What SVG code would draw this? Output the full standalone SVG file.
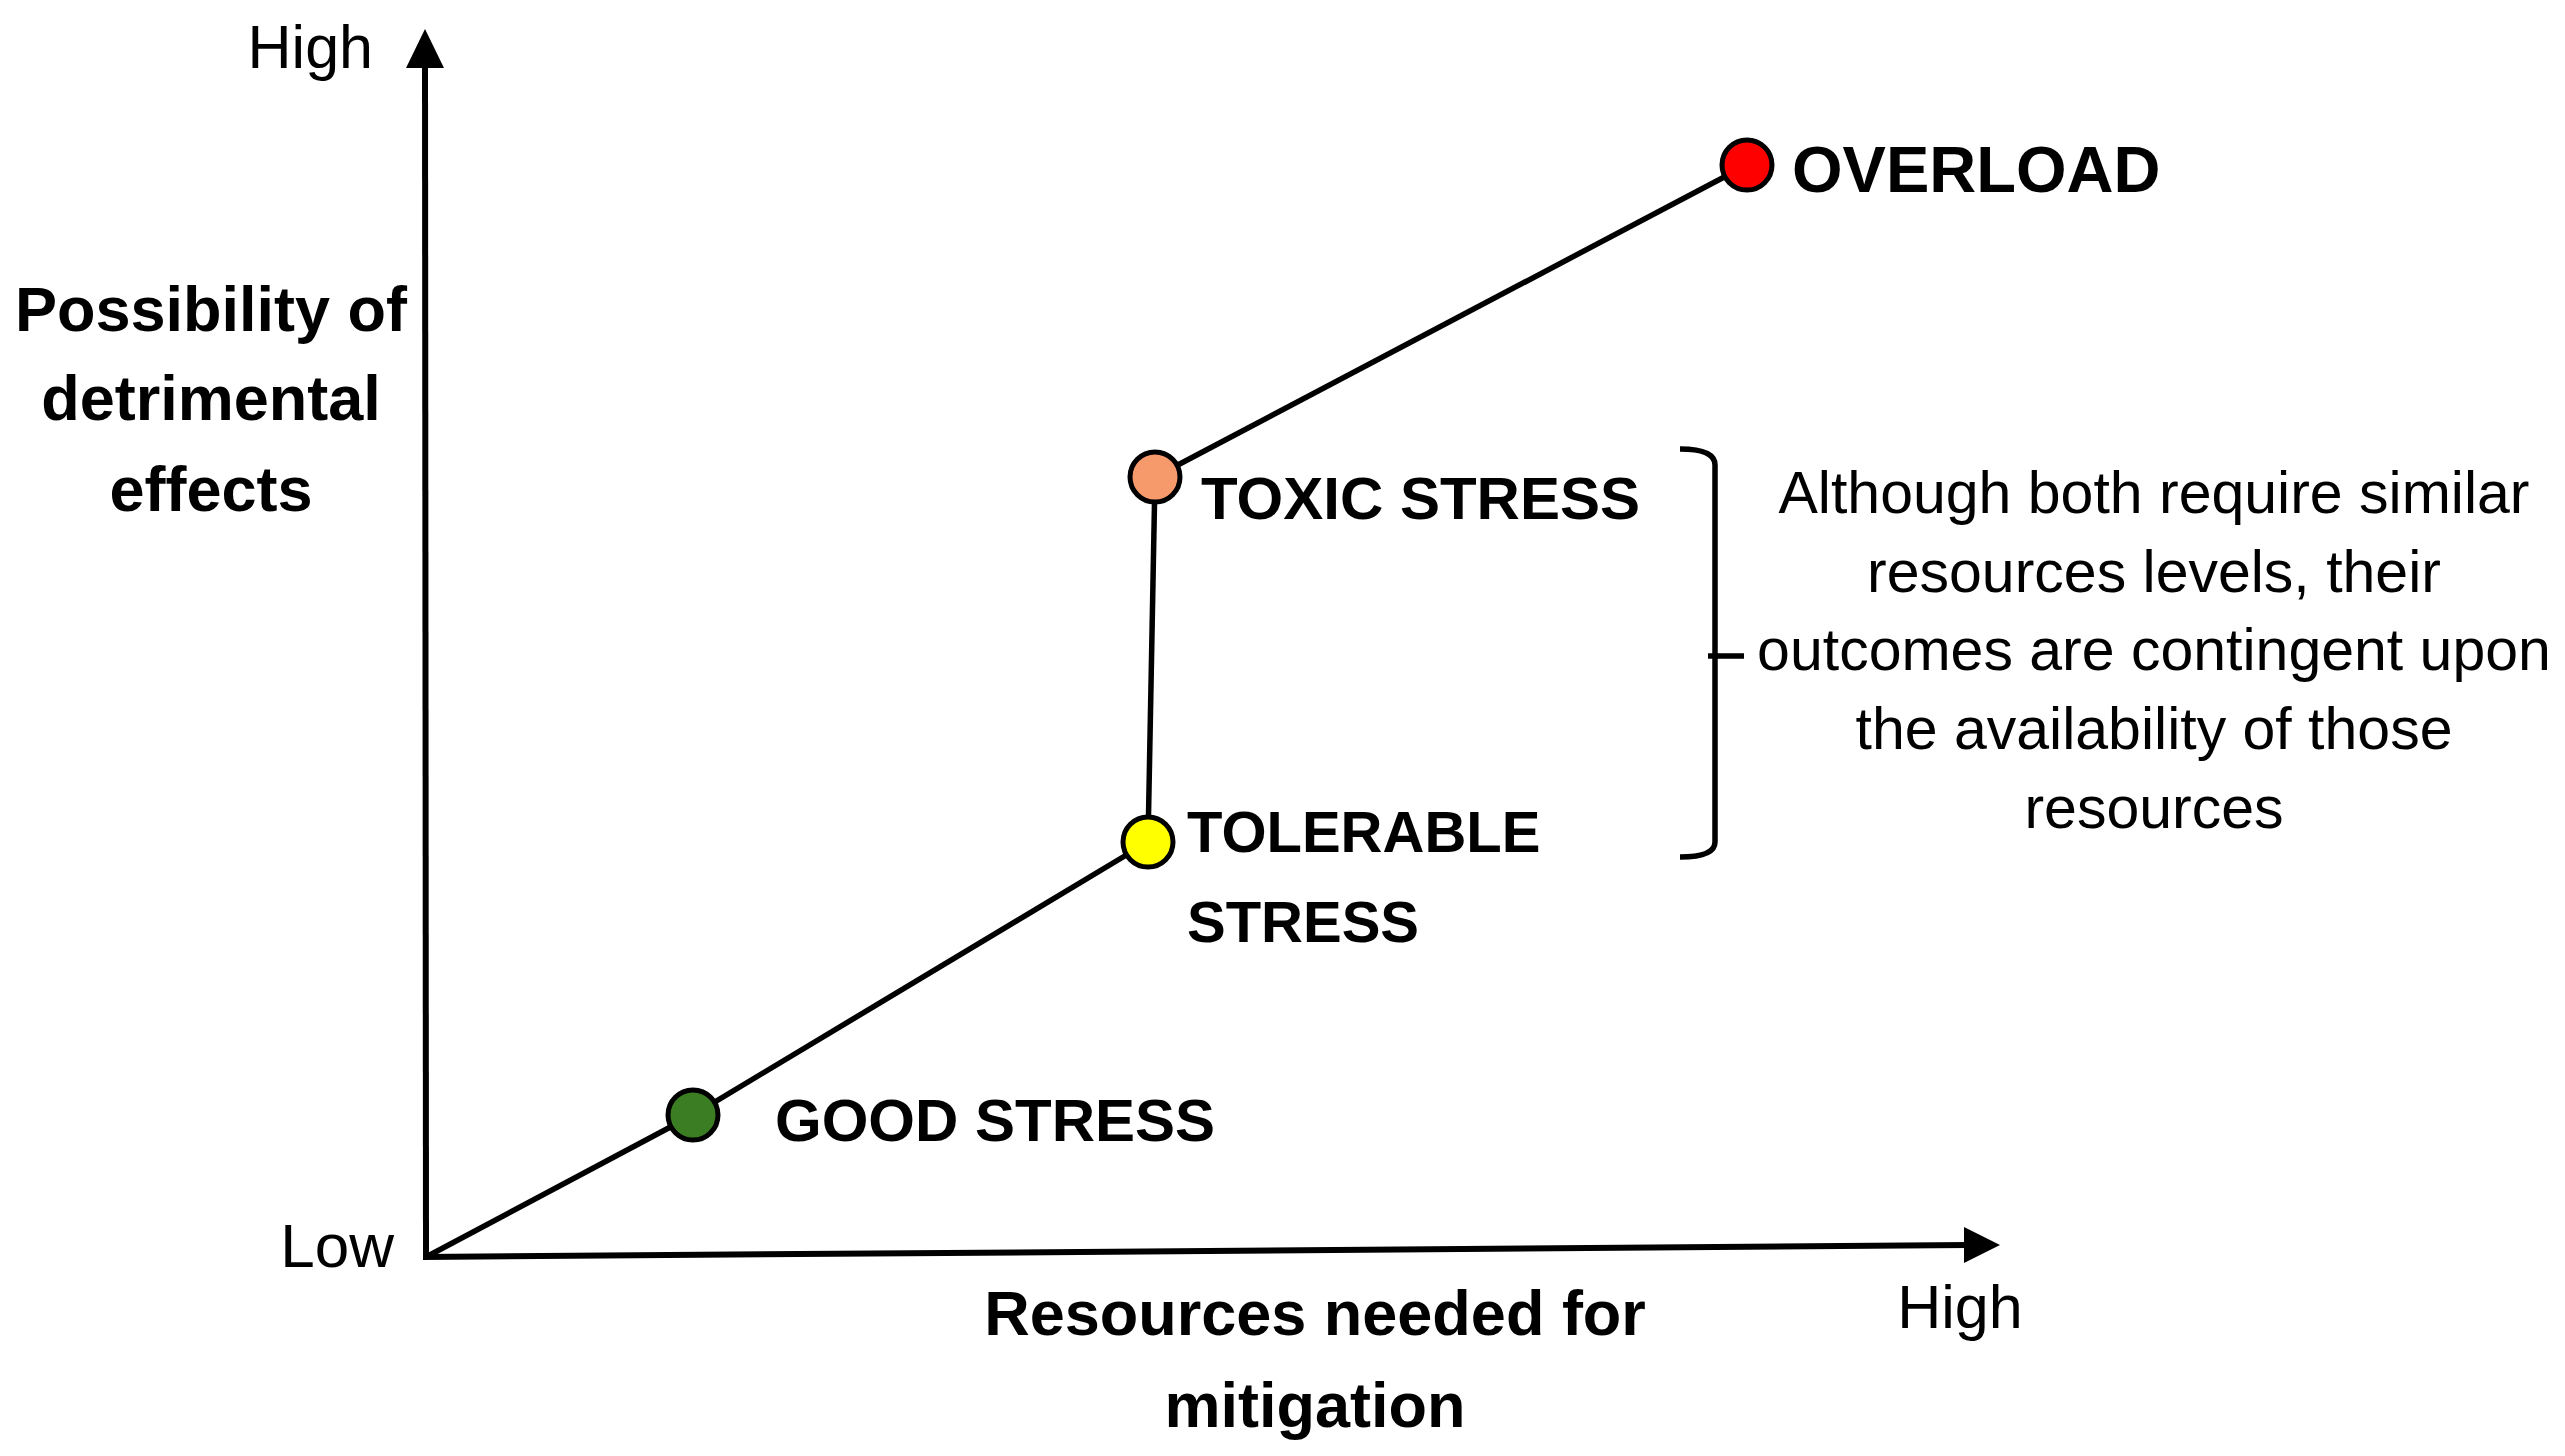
<svg xmlns="http://www.w3.org/2000/svg" width="2565" height="1456" viewBox="0 0 2565 1456">
<style>
.t{font-family:"Liberation Sans",Arial,sans-serif;fill:#000}
.b{font-weight:bold}
.axis{stroke:#000;stroke-width:6;fill:none}
.ln{stroke:#000;stroke-width:5.5;fill:none}
.pt{stroke:#000;stroke-width:5}
</style>
<rect width="2565" height="1456" fill="#fff"/>
<g id="axes">
<line class="axis" x1="426" y1="1257" x2="425" y2="64"/>
<polygon points="425,29 406,68 444,68" fill="#000"/>
<line class="axis" x1="423" y1="1257" x2="1968" y2="1245"/>
<polygon points="2000,1245 1964,1227 1964,1263" fill="#000"/>
<text class="t" x="373" y="68" font-size="61" text-anchor="end">High</text>
<text class="t" x="394" y="1267" font-size="62" text-anchor="end">Low</text>
<text class="t" x="1960" y="1328" font-size="61" text-anchor="middle">High</text>
<text class="t b" font-size="63" text-anchor="middle"><tspan x="211" y="331">Possibility of</tspan><tspan x="211" y="420">detrimental</tspan><tspan x="211" y="511">effects</tspan></text>
<text class="t b" font-size="63" text-anchor="middle"><tspan x="1315" y="1335">Resources needed for</tspan><tspan x="1315" y="1427">mitigation</tspan></text>
</g>
<g id="connectors">
<polyline class="ln" points="426,1257 693,1115 1148,842"/>
<line class="ln" x1="1148" y1="842" x2="1155" y2="477"/>
<line class="ln" x1="1155" y1="477" x2="1747" y2="165"/>
</g>
<g id="good-stress">
<circle class="pt" cx="693" cy="1115" r="25" fill="#3b7d23"/>
<text class="t b" x="775" y="1141" font-size="60">GOOD STRESS</text>
</g>
<g id="tolerable-stress">
<circle class="pt" cx="1148" cy="842" r="25" fill="#ffff00"/>
<text class="t b" font-size="58"><tspan x="1187" y="852">TOLERABLE</tspan><tspan x="1187" y="942">STRESS</tspan></text>
</g>
<g id="toxic-stress">
<circle class="pt" cx="1155" cy="477" r="25" fill="#f79a6b"/>
<text class="t b" x="1201" y="519" font-size="60">TOXIC STRESS</text>
</g>
<g id="overload">
<circle class="pt" cx="1747" cy="165" r="25" fill="#ff0000"/>
<text class="t b" x="1792" y="192" font-size="65">OVERLOAD</text>
</g>
<g id="annotation">
<path class="ln" d="M1680,449 Q1715,449 1715,465 L1715,842 Q1715,857 1680,857 M1708,656 L1744,656"/>
<text class="t" font-size="59" text-anchor="middle"><tspan x="2154" y="513">Although both require similar</tspan><tspan x="2154" y="592">resources levels, their</tspan><tspan x="2154" y="670">outcomes are contingent upon</tspan><tspan x="2154" y="749">the availability of those</tspan><tspan x="2154" y="828">resources</tspan></text>
</g>
</svg>
